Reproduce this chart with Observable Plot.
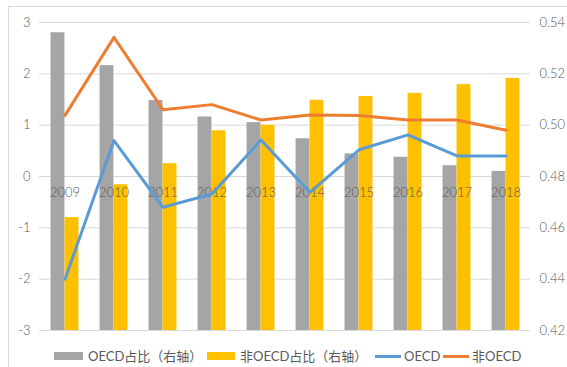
<!DOCTYPE html>
<html><head><meta charset="utf-8">
<script src="https://cdn.jsdelivr.net/npm/d3@7"></script>
<script src="https://cdn.jsdelivr.net/npm/@observablehq/plot@0.6"></script>
<style>
body{margin:0;background:#fff;font-family:"Lato","Noto Sans CJK SC",sans-serif;}
#wrap{position:relative;width:567px;height:367px;overflow:hidden;}
#frame{position:absolute;left:8px;top:6px;width:600px;height:400px;border:1px solid #d9d9d9;}
#chart{position:absolute;left:0;top:0;}
#legend{position:absolute;left:0;top:346px;width:567px;height:20px;font-size:13px;color:#595959;white-space:nowrap;}
#legend span{position:absolute;}
.sw{top:6px;height:8px;}
.ln{top:9px;height:3px;width:26px;}
.tx{top:1px;line-height:18px;}
</style></head>
<body>
<div id="wrap"><div id="frame"></div><div id="chart"></div>
<div id="legend">
<span class="sw" style="left:54px;width:29px;background:#A5A5A5"></span><span class="tx" style="left:88px">OECD占比（右轴）</span>
<span class="sw" style="left:207px;width:28px;background:#FFC000"></span><span class="tx" style="left:240px">非OECD占比（右轴）</span>
<span class="ln" style="left:375px;background:#5B9BD5"></span><span class="tx" style="left:404px">OECD</span>
<span class="ln" style="left:443px;background:#ED7D31"></span><span class="tx" style="left:472px">非OECD</span>
</div></div>
<script>
const years = ["2009","2010","2011","2012","2013","2014","2015","2016","2017","2018"];
const oecdShare = [0.536,0.5232,0.5096,0.5032,0.501,0.4947,0.4888,0.4875,0.4842,0.482];
const nonOecdShare = [0.464,0.4768,0.485,0.4978,0.500,0.5097,0.5112,0.5124,0.5158,0.5182];
const oecdLine = [-2.0,0.70,-0.60,-0.34,0.71,-0.31,0.52,0.81,0.40,0.40];
const nonOecdLine = [1.19,2.71,1.30,1.40,1.10,1.20,1.19,1.10,1.10,0.90];
const leftTicks = [-3,-2,-1,0,1,2,3];
const rightTicks = [0.42,0.44,0.46,0.48,0.50,0.52,0.54];

// right axis [0.42,0.54] aligned onto left axis [-3,3]
const toLeft = v => (v - 0.42) / 0.02 - 3;

const gray = years.map((y,i)=>({year:y, v:toLeft(oecdShare[i])}));
const yellow = years.map((y,i)=>({year:y, v:toLeft(nonOecdShare[i])}));
const l1 = years.map((y,i)=>({year:y, v:oecdLine[i]}));
const l2 = years.map((y,i)=>({year:y, v:nonOecdLine[i]}));

const W=567, ML=39, MR=37;
const half = (W-ML-MR)/years.length/2;
const bw = 14;

const chart = Plot.plot({
  width:W, height:340,
  marginTop:22, marginBottom:10, marginLeft:ML, marginRight:MR,
  style:{fontFamily:"Lato, 'Noto Sans CJK SC', sans-serif", fontSize:"13px", color:"#595959", fontWeight:300},
  x:{domain:years, padding:0, axis:null},
  y:{domain:[-3,3], axis:null},
  marks:[
    Plot.ruleY(leftTicks,{stroke:"#d9d9d9", strokeWidth:1}),
    Plot.barY(gray,{x:"year", y1:-3, y2:"v", fill:"#A5A5A5", insetLeft:half-bw, insetRight:half}),
    Plot.barY(yellow,{x:"year", y1:-3, y2:"v", fill:"#FFC000", insetLeft:half, insetRight:half-bw}),
    Plot.axisY(leftTicks,{anchor:"left", tickSize:0, tickPadding:9, fontSize:13, fill:"#595959", label:null, tickFormat:d=>String(d)}),
    Plot.axisY(rightTicks.map(toLeft),{anchor:"right", tickSize:0, tickPadding:9, fontSize:13, fill:"#595959", label:null,
      tickFormat:d=>(0.42+(d+3)*0.02).toFixed(2)}),
    Plot.text(years,{x:d=>d, y:0, dy:16, text:d=>d, fill:"#595959", fontSize:13}),
    Plot.line(l2,{x:"year", y:"v", stroke:"#ED7D31", strokeWidth:3}),
    Plot.line(l1,{x:"year", y:"v", stroke:"#5B9BD5", strokeWidth:3})
  ]
});
document.getElementById("chart").appendChild(chart);
</script>
</body></html>
